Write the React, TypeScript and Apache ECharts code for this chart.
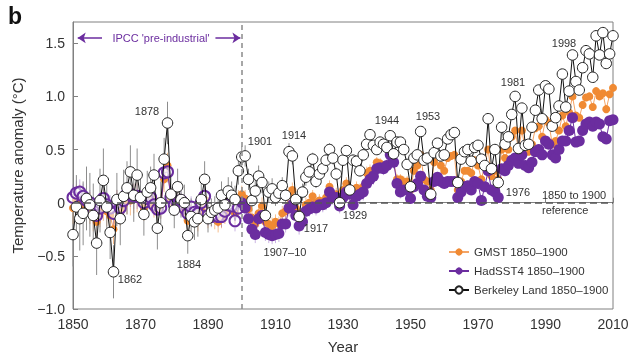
import React, { useEffect, useRef } from "react";
import * as echarts from "echarts";

const startYear = 1850;

const berkeley = [
  -0.30, -0.04, -0.15, -0.10, 0.04, -0.02, -0.12, -0.38, 0.02, 0.21,
  -0.04, -0.28, -0.65, 0.03, -0.15, 0.06, 0.14, 0.29, 0.07, 0.26,
  0.05, -0.11, 0.10, 0.14, 0.26, -0.24, 0.00, 0.41, 0.75, 0.08,
  -0.07, 0.15, 0.03, 0.00, -0.31, -0.13, -0.18, -0.15, 0.03, 0.22,
  -0.15, -0.09, -0.07, -0.05, 0.07, -0.02, 0.11, 0.07, 0.03, 0.30,
  0.43, 0.44, 0.22, 0.02, 0.11, 0.25, 0.19, -0.12, 0.10, 0.13,
  0.05, 0.09, 0.16, 0.07, 0.48, 0.44, 0.03, -0.13, 0.10, 0.24,
  0.29, 0.41, 0.20, 0.27, 0.32, 0.40, 0.50, 0.42, 0.27, 0.00,
  0.40, 0.49, 0.12, 0.40, 0.39, 0.30, 0.45, 0.55, 0.64, 0.54,
  0.50, 0.57, 0.55, 0.52, 0.63, 0.46, 0.57, 0.57, 0.50, 0.36,
  0.15, 0.42, 0.45, 0.67, 0.40, 0.42, 0.08, 0.47, 0.56, 0.44,
  0.45, 0.60, 0.64, 0.66, 0.19, 0.41, 0.48, 0.50, 0.39, 0.52,
  0.54, 0.41, 0.35, 0.79, 0.32, 0.50, 0.19, 0.71, 0.55, 0.62,
  0.83, 1.00, 0.51, 0.89, 0.54, 0.55, 0.71, 0.87, 1.06, 0.79,
  1.10, 1.07, 0.72, 0.80, 0.91, 1.21, 0.90, 1.05, 1.39, 1.14,
  1.06, 1.27, 1.43, 1.40, 1.18, 1.57, 1.39, 1.60, 1.31, 1.40,
  1.57,
];

const gmst = [
  -0.05, 0.02, 0.02, -0.02, -0.03, -0.05, -0.12, -0.18, -0.08, -0.02,
  -0.08, -0.12, -0.25, -0.02, -0.08, -0.02, 0.03, 0.02, 0.04, 0.05,
  0.02, -0.05, 0.02, 0.04, -0.02, -0.07, -0.03, 0.22, 0.35, 0.02,
  -0.02, 0.02, -0.02, -0.08, -0.17, -0.12, -0.12, -0.17, -0.08, 0.03,
  -0.14, -0.12, -0.15, -0.18, -0.14, -0.10, 0.02, 0.04, -0.10, 0.02,
  0.08, 0.04, -0.06, -0.14, -0.20, -0.10, -0.03, -0.18, -0.20, -0.22,
  -0.18, -0.20, -0.10, -0.08, 0.08, 0.12, -0.05, -0.15, -0.10, -0.02,
  0.00, 0.06, 0.00, 0.02, 0.00, 0.05, 0.15, 0.08, 0.08, -0.02,
  0.12, 0.18, 0.12, 0.00, 0.14, 0.12, 0.15, 0.28, 0.30, 0.30,
  0.38, 0.37, 0.33, 0.35, 0.47, 0.38, 0.22, 0.22, 0.20, 0.20,
  0.12, 0.30, 0.35, 0.45, 0.22, 0.20, 0.12, 0.38, 0.45, 0.35,
  0.30, 0.42, 0.44, 0.45, 0.12, 0.20, 0.30, 0.30, 0.28, 0.40,
  0.35, 0.22, 0.35, 0.50, 0.25, 0.30, 0.22, 0.50, 0.42, 0.50,
  0.62, 0.68, 0.50, 0.68, 0.50, 0.48, 0.55, 0.70, 0.72, 0.62,
  0.78, 0.75, 0.55, 0.58, 0.68, 0.82, 0.72, 0.85, 1.00, 0.82,
  0.80, 0.92, 0.99, 1.00, 0.90, 1.05, 1.00, 1.03, 0.88, 1.02,
  1.08,
];

const hadsst = [
  0.05, 0.09, 0.10, 0.06, 0.02, 0.00, -0.08, -0.12, -0.05, 0.04,
  -0.02, -0.05, -0.10, 0.00, -0.05, 0.02, 0.08, 0.08, 0.06, 0.06,
  0.05, 0.00, 0.04, 0.05, -0.02, -0.06, -0.05, 0.28, 0.29, 0.05,
  -0.02, -0.02, 0.02, -0.05, -0.10, -0.04, -0.09, -0.10, 0.00, 0.06,
  -0.12, -0.13, -0.10, -0.13, -0.13, -0.08, -0.02, -0.03, -0.17, -0.05,
  0.00, -0.05, -0.15, -0.25, -0.30, -0.15, -0.12, -0.28, -0.30, -0.31,
  -0.30, -0.29, -0.20, -0.20, -0.05, -0.02, -0.12, -0.22, -0.18, -0.08,
  -0.06, -0.04, -0.05, -0.02, -0.02, 0.00, 0.10, 0.05, 0.05, -0.03,
  0.05, 0.10, 0.08, -0.02, 0.06, 0.08, 0.10, 0.18, 0.22, 0.25,
  0.32, 0.33, 0.32, 0.35, 0.45, 0.38, 0.18, 0.10, 0.12, 0.12,
  0.04, 0.15, 0.18, 0.25, 0.12, 0.06, 0.05, 0.20, 0.24, 0.20,
  0.18, 0.20, 0.20, 0.20, 0.05, 0.10, 0.15, 0.16, 0.12, 0.20,
  0.18, 0.02, 0.15, 0.30, 0.12, 0.10, 0.05, 0.32, 0.30, 0.35,
  0.40, 0.42, 0.37, 0.45, 0.35, 0.33, 0.38, 0.48, 0.50, 0.45,
  0.58, 0.55, 0.45, 0.42, 0.50, 0.58, 0.58, 0.68, 0.80, 0.57,
  0.58, 0.68, 0.74, 0.76, 0.72, 0.76, 0.74, 0.62, 0.60, 0.77,
  0.78,
];

// half-widths of the uncertainty bars, one value per decade 1850..2010
const berkErrByDecade = [0.3, 0.25, 0.2, 0.17, 0.13, 0.1, 0.08, 0.06, 0.05, 0.05, 0.04, 0.04, 0.03, 0.03, 0.03, 0.03, 0.03];
const sstErrByDecade = [0.12, 0.12, 0.1, 0.1, 0.1, 0.08, 0.08, 0.07, 0.08, 0.06, 0.05, 0.04, 0.04, 0.03, 0.03, 0.03, 0.03];
const gmstErrByDecade = [0.15, 0.14, 0.12, 0.1, 0.1, 0.08, 0.07, 0.06, 0.06, 0.05, 0.04, 0.03, 0.03, 0.02, 0.02, 0.02, 0.02];

const xTicks = { min: 1850, max: 2010, interval: 20 };
const yTicks = { min: -1.0, max: 1.7, interval: 0.5 };
const preIndustrialEnd = 1900;

const annotations = [
  { text: "1878", x: 147, y: 111 },
  { text: "1862", x: 130, y: 279 },
  { text: "1884", x: 189, y: 264 },
  { text: "1901", x: 260, y: 141 },
  { text: "1914", x: 294, y: 135 },
  { text: "1907–10", x: 285, y: 252 },
  { text: "1917", x: 316, y: 228 },
  { text: "1929", x: 355, y: 215 },
  { text: "1944", x: 387, y: 120 },
  { text: "1953", x: 428, y: 116 },
  { text: "1981", x: 513, y: 82 },
  { text: "1976", x: 518, y: 192 },
  { text: "1998", x: 564, y: 43 },
];

const ORANGE = "#f08a33";
const PURPLE = "#6b2d9f";
const FONT = "Liberation Sans, Arial, sans-serif";

function errData(vals: number[], errs: number[]) {
  return vals.map((v, i) => {
    const e = errs[Math.floor(i / 10)];
    return [startYear + i, v - e, v + e];
  });
}

function errSeries(name: string, vals: number[], errs: number[], color: string, z: number, extra: any = {}) {
  return {
    type: "custom",
    name,
    z,
    silent: true,
    data: errData(vals, errs),
    encode: { x: 0, y: [1, 2] },
    renderItem: (params: any, api: any) => {
      const x = api.value(0);
      const p1 = api.coord([x, api.value(1)]);
      const p2 = api.coord([x, api.value(2)]);
      return {
        type: "line",
        shape: { x1: p1[0], y1: p1[1], x2: p2[0], y2: p2[1] },
        style: { stroke: color, lineWidth: 1 },
      };
    },
    ...extra,
  };
}

export default function App() {
  const ref = useRef<HTMLDivElement>(null);
  useEffect(() => {
    if (!ref.current) return;
    const chart = echarts.init(ref.current, undefined, { renderer: "svg" });
    const gmstData = gmst.map((v, i) => [startYear + i, v]);
    const berkData = berkeley.map((v, i) => [startYear + i, v]);
    const sstData = hadsst.map((v, i) => {
      const yr = startYear + i;
      if (yr < preIndustrialEnd) {
        return {
          value: [yr, v],
          itemStyle: { color: "rgba(255,255,255,0.55)", borderColor: PURPLE, borderWidth: 2 },
        };
      }
      return { value: [yr, v] };
    });

    const option: any = {
      animation: false,
      textStyle: { fontFamily: FONT },
      grid: { left: 73, right: 27, top: 22, bottom: 48, show: true, borderColor: "#808080", borderWidth: 1 },
      xAxis: {
        type: "value",
        min: xTicks.min,
        max: xTicks.max,
        interval: xTicks.interval,
        name: "Year",
        nameLocation: "middle",
        nameGap: 30,
        nameTextStyle: { fontSize: 15, color: "#333", fontFamily: FONT },
        axisLine: { lineStyle: { color: "#808080" } },
        axisTick: { inside: true, length: 5, lineStyle: { color: "#808080" } },
        axisLabel: { fontSize: 14, color: "#333", margin: 8, formatter: (v: number) => String(v) },
        splitLine: { show: false },
      },
      yAxis: {
        type: "value",
        min: yTicks.min,
        max: yTicks.max,
        interval: yTicks.interval,
        name: "Temperature anomaly (°C)",
        nameLocation: "middle",
        nameGap: 48,
        nameTextStyle: { fontSize: 15, color: "#333", fontFamily: FONT },
        axisLine: { lineStyle: { color: "#808080" } },
        axisTick: { inside: true, length: 5, lineStyle: { color: "#808080" } },
        axisLabel: {
          fontSize: 14,
          color: "#333",
          margin: 8,
          showMaxLabel: false,
          formatter: (v: number) => (Math.abs(v) < 1e-9 ? "0" : (v < 0 ? "−" : "") + Math.abs(v).toFixed(1)),
        },
        splitLine: { show: false },
      },
      legend: {
        orient: "vertical",
        left: 443,
        top: 241,
        itemWidth: 20,
        itemHeight: 9,
        itemGap: 7,
        data: ["GMST 1850–1900", "HadSST4 1850–1900", "Berkeley Land 1850–1900"],
        textStyle: { fontSize: 11.5, color: "#333", fontFamily: FONT },
      },
      graphic: [
        {
          type: "text",
          x: 8,
          y: 4,
          style: { text: "b", fontSize: 23, fontWeight: "bold", fill: "#111", fontFamily: FONT },
        },
        {
          type: "text",
          x: 161,
          y: 38,
          style: {
            text: "IPCC 'pre-industrial'",
            fontSize: 11,
            fill: PURPLE,
            fontFamily: FONT,
            align: "center",
            verticalAlign: "middle",
          },
        },
        ...annotations.map((a) => ({
          type: "text",
          x: a.x,
          y: a.y,
          z: 100,
          style: { text: a.text, fontSize: 11, fill: "#333", fontFamily: FONT, align: "center", verticalAlign: "middle" },
        })),
        {
          type: "text",
          x: 542,
          y: 195,
          z: 100,
          style: { text: "1850 to 1900", fontSize: 11, fill: "#333", fontFamily: FONT, verticalAlign: "middle" },
        },
        {
          type: "text",
          x: 542,
          y: 210,
          z: 100,
          style: { text: "reference", fontSize: 11, fill: "#333", fontFamily: FONT, verticalAlign: "middle" },
        },
      ],
      series: [
        errSeries("gmstErr", gmst, gmstErrByDecade, "rgba(240,138,51,0.55)", 1, {
          markLine: {
            silent: true,
            symbol: "none",
            label: { show: false },
            data: [
              { xAxis: preIndustrialEnd, lineStyle: { color: "#8a8a8a", type: [5, 4], width: 1.5 } },
              { yAxis: 0, lineStyle: { color: "#555", type: [7, 4], width: 1.5 } },
            ],
          },
        }),
        errSeries("sstErr", hadsst, sstErrByDecade, "rgba(140,90,190,0.45)", 1),
        errSeries("berkErr", berkeley, berkErrByDecade, "#8c8c8c", 1),
        {
          type: "line",
          name: "GMST 1850–1900",
          z: 2,
          data: gmstData,
          symbol: "circle",
          symbolSize: 8,
          itemStyle: { color: ORANGE },
          lineStyle: { color: "#f4a466", width: 1 },
        },
        {
          type: "line",
          name: "HadSST4 1850–1900",
          z: 3,
          data: sstData,
          symbol: "circle",
          symbolSize: 11,
          itemStyle: { color: PURPLE },
          lineStyle: { color: PURPLE, width: 1 },
        },
        {
          type: "line",
          name: "Berkeley Land 1850–1900",
          z: 4,
          data: berkData,
          symbol: "circle",
          symbolSize: 10.5,
          itemStyle: { color: "#ffffff", borderColor: "#222", borderWidth: 1 },
          lineStyle: { color: "#111", width: 1 },
        },
        {
          type: "line",
          name: "arrows",
          z: 5,
          data: [],
          markLine: {
            silent: true,
            symbol: ["none", "arrow"],
            symbolSize: 8,
            label: { show: false },
            lineStyle: { color: PURPLE, width: 1.5, type: "solid" },
            data: [
              [{ coord: [1858.6, 1.55] }, { coord: [1851.4, 1.55] }],
              [{ coord: [1892.2, 1.55] }, { coord: [1899.6, 1.55] }],
            ],
          },
        },
      ],
    };
    chart.setOption(option);
    return () => chart.dispose();
  }, []);
  return <div ref={ref} style={{ position: "fixed", left: 0, top: 0, width: 640, height: 359 }} />;
}
